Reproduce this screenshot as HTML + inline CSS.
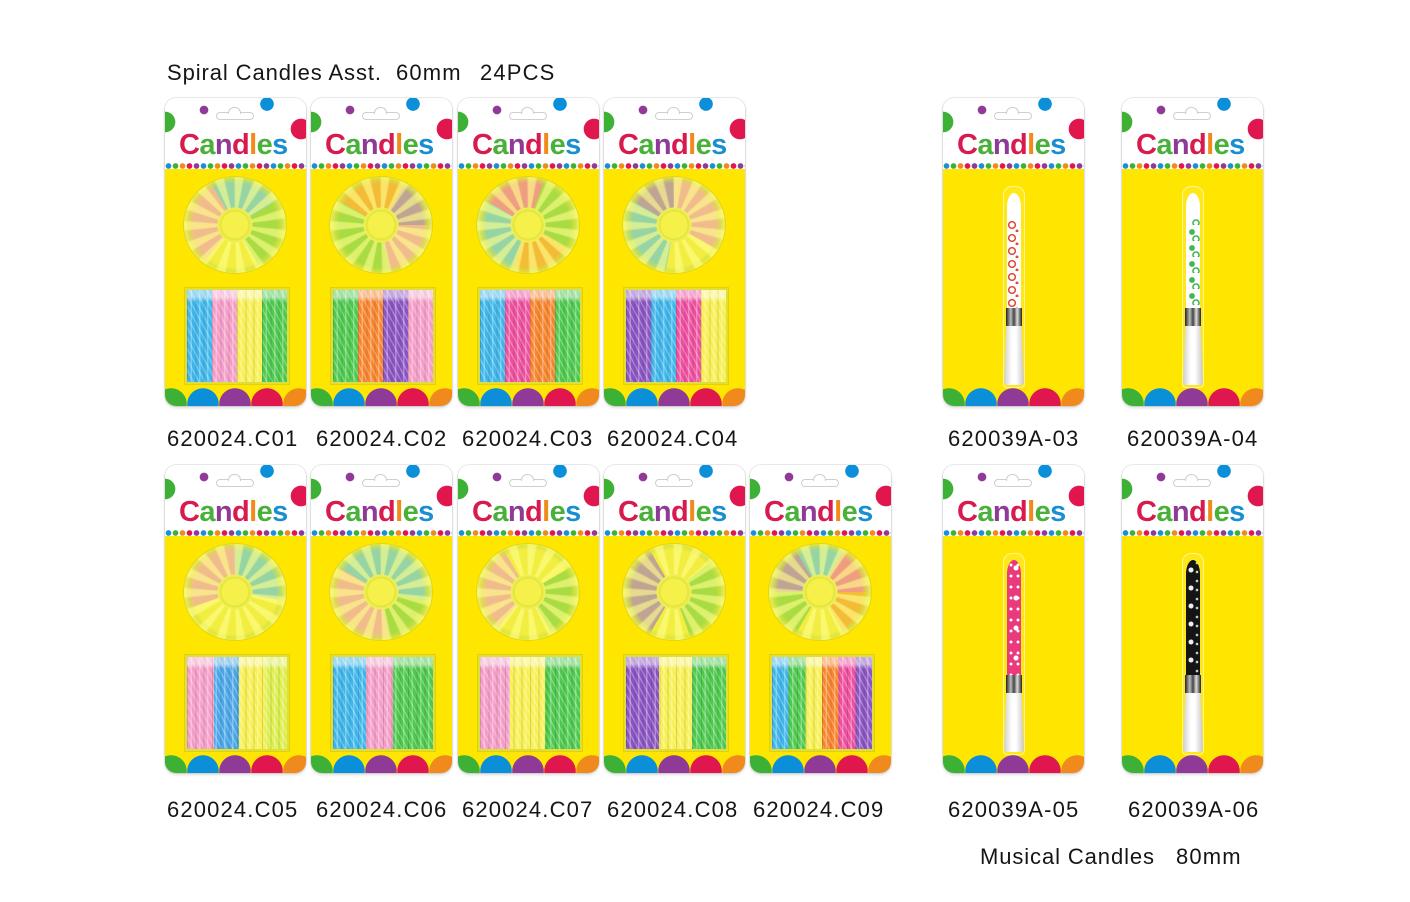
<!DOCTYPE html>
<html><head><meta charset="utf-8">
<style>
html,body{margin:0;padding:0;background:#fff;}
body{width:1410px;height:902px;position:relative;overflow:hidden;font-family:"Liberation Sans",Arial,sans-serif;}
.txt{position:absolute;font-size:22px;line-height:22px;letter-spacing:1.15px;color:#151515;white-space:pre;}
.card{position:absolute;width:141px;height:308px;border-radius:11px;overflow:hidden;
box-shadow:0 0 1.5px rgba(0,0,0,.35),0 2px 3px rgba(0,0,0,.13);
background:
radial-gradient(circle at 39px 12px,#8e3a96 4px,transparent 4.6px) no-repeat,
radial-gradient(circle at 102px 6px,#0b8fd8 6.5px,transparent 7.1px) no-repeat,
radial-gradient(circle at 0px 24px,#3db135 10px,transparent 10.6px) no-repeat,
radial-gradient(circle at 136px 31px,#e0174f 10px,transparent 10.6px) no-repeat,
radial-gradient(circle at 3.5px 3px,#1a8fd6 2.5px,transparent 3.1px) 0px 65px/35px 6px repeat-x,
radial-gradient(circle at 3.5px 3px,#3db135 2.5px,transparent 3.1px) 7px 65px/35px 6px repeat-x,
radial-gradient(circle at 3.5px 3px,#f08a1c 2.5px,transparent 3.1px) 14px 65px/35px 6px repeat-x,
radial-gradient(circle at 3.5px 3px,#e0174f 2.5px,transparent 3.1px) 21px 65px/35px 6px repeat-x,
radial-gradient(circle at 3.5px 3px,#8e3a96 2.5px,transparent 3.1px) 28px 65px/35px 6px repeat-x,
radial-gradient(circle at 6px 306px,#3db135 15.5px,transparent 16px) no-repeat,
radial-gradient(circle at 38px 306px,#0b8fd8 15.5px,transparent 16px) no-repeat,
radial-gradient(circle at 70px 306px,#8e3a96 15.5px,transparent 16px) no-repeat,
radial-gradient(circle at 102px 306px,#e0174f 15.5px,transparent 16px) no-repeat,
radial-gradient(circle at 134px 306px,#f08a1c 15.5px,transparent 16px) no-repeat,
linear-gradient(#fff 0 71px,#ffe600 71px);}
.hg{position:absolute;left:51px;top:14px;width:36px;height:6px;border:1.5px solid #cfcfcf;border-radius:4px;}
.hg:after{content:"";position:absolute;left:11px;top:-6px;width:11px;height:6px;border:1.5px solid #cfcfcf;border-bottom:none;border-radius:6px 6px 0 0;background:#fff;}
.ct{position:absolute;left:14px;top:33px;font-size:29px;line-height:29px;font-weight:bold;letter-spacing:-0.6px;white-space:nowrap;}
.ct span:nth-child(1){color:#d81b4f}.ct span:nth-child(2){color:#49b03a}.ct span:nth-child(3){color:#8e3a96}
.ct span:nth-child(4){color:#d81b4f}.ct span:nth-child(5){color:#f08a1c}.ct span:nth-child(6){color:#49b03a}.ct span:nth-child(7){color:#1a8fd0}
.plate{position:absolute;left:19px;top:79px;width:102px;height:96px;border-radius:50%;
background:
radial-gradient(circle at 51px 48px,#f6f04a 0 13px,#dfe63a 14px,#f3ef5a 17px,transparent 18px),
repeating-conic-gradient(from 5deg at 50% 50%,rgba(255,255,140,.6) 0 4deg,rgba(255,255,255,0) 7deg 17deg,rgba(255,255,140,.6) 20deg 24deg),
radial-gradient(circle at 51px 48px,transparent 0 42px,rgba(215,225,60,.7) 46px,rgba(235,240,90,.85) 50px),
linear-gradient(rgba(238,234,50,.38),rgba(238,234,50,.38)),
var(--p);
box-shadow:0 0 0 1px rgba(190,195,40,.45);}
.box{position:absolute;left:22px;top:192px;width:100px;height:92px;
background:
linear-gradient(rgba(255,255,255,.5) 0 7px,rgba(255,255,255,0) 12px),
repeating-linear-gradient(to right,rgba(0,0,0,.13) 0 1px,rgba(0,0,0,0) 1px 3.5px,rgba(255,255,255,.3) 3.5px 5px,rgba(0,0,0,0) 5px 8.33px),
repeating-linear-gradient(62deg,rgba(255,255,255,.28) 0 1.5px,rgba(255,255,255,0) 1.5px 5px),
var(--g);
box-shadow:0 0 0 2px rgba(225,225,70,.8),0 0 0 3px rgba(170,170,30,.35);}
.sleeve{position:absolute;left:60px;top:88px;width:20px;height:200px;border-radius:9px 9px 4px 4px;border:1px solid rgba(255,255,255,.55);background:rgba(255,255,255,.1);}
.mbody{position:absolute;left:64px;top:95px;width:14px;height:115px;border-radius:50% 50% 0 0/14px 14px 0 0;}
.band{position:absolute;left:63px;top:210px;width:16px;height:18px;background:linear-gradient(to right,#222,#bbb 30%,#444 50%,#ddd 70%,#222);}
.base{position:absolute;left:61px;top:228px;width:20px;height:59px;background:linear-gradient(to right,#cfcfcf,#fff 40%,#fff 60%,#c6c6c6);clip-path:polygon(12% 0,88% 0,100% 100%,0 100%);border-radius:0 0 3px 3px;}
</style></head><body>

<div class="txt" style="left:167px;top:62px;letter-spacing:0.9px">Spiral Candles Asst.</div>
<div class="txt" style="left:396px;top:62px">60mm</div>
<div class="txt" style="left:480px;top:62px">24PCS</div>

<!-- Row 1 -->
<div class="card" style="left:165px;top:98px"><div class="hg"></div><div class="ct"><span>C</span><span>a</span><span>n</span><span>d</span><span>l</span><span>e</span><span>s</span></div>
<div class="plate" style="--p:conic-gradient(from -30deg,#62c7e8 0 90deg,#7fd24c 90deg 180deg,#f5ef4a 180deg 250deg,#f3a0c2 250deg 360deg)"></div>
<div class="box" style="--g:linear-gradient(to right,#3db5ea 0 25%,#f49cc6 25% 50%,#f7f04e 50% 75%,#4cc84c 75%)"></div></div>

<div class="card" style="left:311px;top:98px"><div class="hg"></div><div class="ct"><span>C</span><span>a</span><span>n</span><span>d</span><span>l</span><span>e</span><span>s</span></div>
<div class="plate" style="--p:conic-gradient(from -60deg,#f5a03a 0 90deg,#a27ad0 90deg 150deg,#f3a0c2 150deg 230deg,#7fd24c 230deg 360deg)"></div>
<div class="box" style="--g:linear-gradient(to right,#4cc84c 0 25%,#f7842c 25% 50%,#8a53c2 50% 75%,#f49cc6 75%)"></div></div>

<div class="card" style="left:458px;top:98px"><div class="hg"></div><div class="ct"><span>C</span><span>a</span><span>n</span><span>d</span><span>l</span><span>e</span><span>s</span></div>
<div class="plate" style="--p:conic-gradient(from -60deg,#ef6fb0 0 80deg,#7fd24c 80deg 180deg,#f5a03a 180deg 260deg,#62c7e8 260deg 360deg)"></div>
<div class="box" style="--g:linear-gradient(to right,#3db5ea 0 25%,#ee4e9e 25% 50%,#f7842c 50% 75%,#4cc84c 75%)"></div></div>

<div class="card" style="left:604px;top:98px"><div class="hg"></div><div class="ct"><span>C</span><span>a</span><span>n</span><span>d</span><span>l</span><span>e</span><span>s</span></div>
<div class="plate" style="--p:conic-gradient(from -60deg,#a27ad0 0 60deg,#f3a0c2 60deg 180deg,#f5ef4a 180deg 250deg,#62c7e8 250deg 360deg)"></div>
<div class="box" style="--g:linear-gradient(to right,#8a53c2 0 25%,#3db5ea 25% 50%,#ee4e9e 50% 75%,#f7f04e 75%)"></div></div>

<div class="card" style="left:943px;top:98px"><div class="hg"></div><div class="ct"><span>C</span><span>a</span><span>n</span><span>d</span><span>l</span><span>e</span><span>s</span></div>
<div class="sleeve"></div>
<div class="mbody" style="background:linear-gradient(#fff 0 26px,rgba(255,255,255,0) 26px),radial-gradient(circle at 5px 6px,rgba(0,0,0,0) 2.3px,#e0483a 2.8px 3.8px,rgba(0,0,0,0) 4.3px) 0 0/14px 13px,radial-gradient(circle at 10px 12px,#e0483a 1.2px,rgba(0,0,0,0) 1.8px) 0 0/14px 13px,#fdfdfd"></div>
<div class="band"></div><div class="base"></div></div>

<div class="card" style="left:1122px;top:98px"><div class="hg"></div><div class="ct"><span>C</span><span>a</span><span>n</span><span>d</span><span>l</span><span>e</span><span>s</span></div>
<div class="sleeve"></div>
<div class="mbody" style="background:linear-gradient(#fff 0 26px,rgba(255,255,255,0) 26px),radial-gradient(circle at 6px 7px,#3fb54a 2.5px,rgba(0,0,0,0) 3.2px) 0 0/14px 16px,radial-gradient(circle at 10px 14px,rgba(0,0,0,0) 2px,#3fb54a 2.5px 3.5px,rgba(0,0,0,0) 4px) 0 0/14px 16px,#fdfdfd"></div>
<div class="band"></div><div class="base"></div></div>

<div class="txt" style="left:167px;top:428px">620024.C01</div>
<div class="txt" style="left:316px;top:428px">620024.C02</div>
<div class="txt" style="left:462px;top:428px">620024.C03</div>
<div class="txt" style="left:607px;top:428px">620024.C04</div>
<div class="txt" style="left:948px;top:428px">620039A-03</div>
<div class="txt" style="left:1127px;top:428px">620039A-04</div>

<!-- Row 2 -->
<div class="card" style="left:165px;top:465px"><div class="hg"></div><div class="ct"><span>C</span><span>a</span><span>n</span><span>d</span><span>l</span><span>e</span><span>s</span></div>
<div class="plate" style="--p:conic-gradient(from 0deg,#62c7e8 0 100deg,#f5ef4a 100deg 250deg,#f3a0c2 250deg 360deg)"></div>
<div class="box" style="--g:linear-gradient(to right,#f49cc6 0 27%,#4aa6e8 27% 52%,#f7f04e 52% 78%,#dcee4a 78%)"></div></div>

<div class="card" style="left:311px;top:465px"><div class="hg"></div><div class="ct"><span>C</span><span>a</span><span>n</span><span>d</span><span>l</span><span>e</span><span>s</span></div>
<div class="plate" style="--p:conic-gradient(from -30deg,#62c7e8 0 130deg,#7fd24c 130deg 200deg,#f3a0c2 200deg 330deg,#62c7e8 330deg)"></div>
<div class="box" style="--g:linear-gradient(to right,#3db5ea 0 33%,#f49cc6 33% 60%,#4cc84c 60%)"></div></div>

<div class="card" style="left:458px;top:465px"><div class="hg"></div><div class="ct"><span>C</span><span>a</span><span>n</span><span>d</span><span>l</span><span>e</span><span>s</span></div>
<div class="plate" style="--p:conic-gradient(from -30deg,#f5ef4a 0 90deg,#7fd24c 90deg 180deg,#f5ef4a 180deg 250deg,#f3a0c2 250deg 360deg)"></div>
<div class="box" style="--g:linear-gradient(to right,#f49cc6 0 30%,#f7f04e 30% 65%,#4cc84c 65%)"></div></div>

<div class="card" style="left:604px;top:465px"><div class="hg"></div><div class="ct"><span>C</span><span>a</span><span>n</span><span>d</span><span>l</span><span>e</span><span>s</span></div>
<div class="plate" style="--p:conic-gradient(from -30deg,#f5ef4a 0 80deg,#7fd24c 80deg 190deg,#f5ef4a 190deg 240deg,#a27ad0 240deg 360deg)"></div>
<div class="box" style="--g:linear-gradient(to right,#8a53c2 0 33%,#f7f04e 33% 66%,#4cc84c 66%)"></div></div>

<div class="card" style="left:750px;top:465px"><div class="hg"></div><div class="ct"><span>C</span><span>a</span><span>n</span><span>d</span><span>l</span><span>e</span><span>s</span></div>
<div class="plate" style="--p:conic-gradient(from -30deg,#62c7e8 0 60deg,#ef6fb0 60deg 120deg,#f5a03a 120deg 180deg,#f5ef4a 180deg 240deg,#7fd24c 240deg 300deg,#a27ad0 300deg 360deg)"></div>
<div class="box" style="--g:linear-gradient(to right,#3db5ea 0 16.6%,#4cc84c 16.6% 33.3%,#f7f04e 33.3% 50%,#f7842c 50% 66.6%,#ee4e9e 66.6% 83.3%,#8a53c2 83.3%)"></div></div>

<div class="card" style="left:943px;top:465px"><div class="hg"></div><div class="ct"><span>C</span><span>a</span><span>n</span><span>d</span><span>l</span><span>e</span><span>s</span></div>
<div class="sleeve"></div>
<div class="mbody" style="background:radial-gradient(circle at 4px 5px,#fff 1.2px,rgba(0,0,0,0) 1.8px) 0 0/7px 11px,radial-gradient(circle at 9px 8px,#fff 2.2px,rgba(0,0,0,0) 2.8px) 0 0/14px 30px,#e93a7d"></div>
<div class="band"></div><div class="base"></div></div>

<div class="card" style="left:1122px;top:465px"><div class="hg"></div><div class="ct"><span>C</span><span>a</span><span>n</span><span>d</span><span>l</span><span>e</span><span>s</span></div>
<div class="sleeve"></div>
<div class="mbody" style="background:radial-gradient(circle at 5px 10px,#eee 2.2px,rgba(0,0,0,0) 2.8px) 0 0/14px 18px,radial-gradient(circle at 11px 3px,#ccc 1px,rgba(0,0,0,0) 1.6px) 0 0/14px 9px,#141414"></div>
<div class="band"></div><div class="base"></div></div>

<div class="txt" style="left:167px;top:799px">620024.C05</div>
<div class="txt" style="left:316px;top:799px">620024.C06</div>
<div class="txt" style="left:462px;top:799px">620024.C07</div>
<div class="txt" style="left:607px;top:799px">620024.C08</div>
<div class="txt" style="left:753px;top:799px">620024.C09</div>
<div class="txt" style="left:948px;top:799px">620039A-05</div>
<div class="txt" style="left:1128px;top:799px">620039A-06</div>

<div class="txt" style="left:980px;top:846px;letter-spacing:0.9px">Musical Candles</div>
<div class="txt" style="left:1176px;top:846px">80mm</div>

</body></html>
